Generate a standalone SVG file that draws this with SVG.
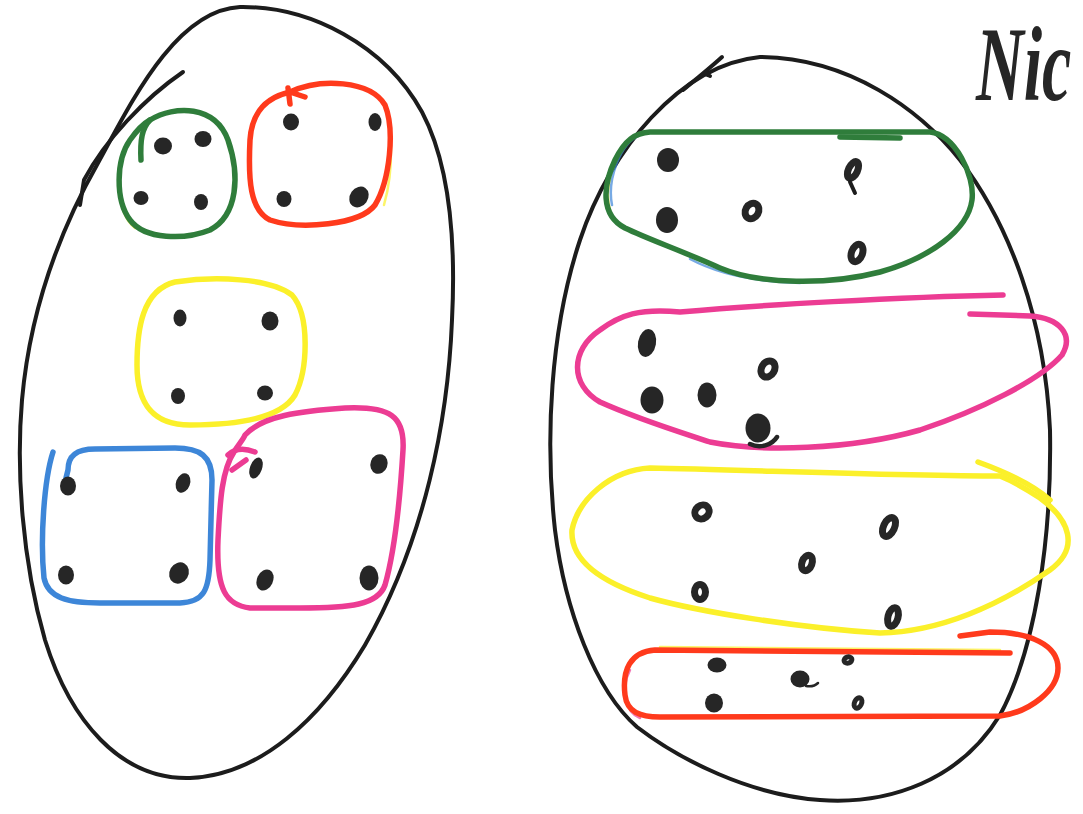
<svg xmlns="http://www.w3.org/2000/svg" width="1083" height="814" viewBox="0 0 1083 814">
<style>
.ink{fill:none;stroke:#1c1c1c;stroke-width:4;stroke-linecap:round;stroke-linejoin:round}
.mk{fill:none;stroke-width:5.5;stroke-linecap:round;stroke-linejoin:round}
.tint{fill:none;stroke-width:2.5;stroke-linecap:round;stroke-linejoin:round;opacity:0.7}
.green{stroke:#2f7d3b}
.red{stroke:#ff3a1c}
.yellow{stroke:#fbf02a}
.blue{stroke:#3d86d8}
.pink{stroke:#ec3c93}
.dot{fill:#262626}
.odot{fill:#fff;stroke:#262626;stroke-width:7}
.label{font-family:"Liberation Serif",serif;font-style:italic;font-weight:bold;fill:#262626}
</style>
<rect width="1083" height="814" fill="#fff"/>

<g id="left-set">
  <path class="ink" d="M 240 7 C 310 6, 385 45, 422 112 C 450 165, 456 240, 452 320 C 448 420, 425 540, 365 645 C 320 720, 260 775, 190 778 C 120 780, 70 720, 45 640 C 22 560, 16 470, 22 400 C 30 310, 60 230, 98 163 C 130 105, 175 10, 240 7 Z"/>
  <path class="ink" d="M 183 72 C 145 98, 105 140, 84 180 L 80 205"/>
</g>

<g id="left-green">
  <path class="tint yellow" d="M 123 152 C 116 180, 118 215, 135 228"/>
  <path class="mk green" d="M 150 120 C 175 105, 215 105, 228 140 C 240 175, 238 215, 210 230 C 185 240, 145 240, 130 220 C 115 200, 116 160, 130 140 C 137 130, 143 124, 150 120 Z"/>
  <path class="mk green" d="M 150 120 C 142 128, 140 140, 141 160"/>
  <ellipse class="dot" cx="163" cy="146" rx="9" ry="8.5"/>
  <ellipse class="dot" cx="203" cy="139" rx="8.5" ry="8"/>
  <ellipse class="dot" cx="141" cy="198" rx="7.5" ry="7"/>
  <ellipse class="dot" cx="201" cy="202" rx="7" ry="8"/>
</g>

<g id="left-red">
  <path class="tint yellow" d="M 383 100 C 393 125, 394 170, 384 205"/>
  <path class="mk red" d="M 290 92 C 320 78, 370 80, 385 105 C 395 130, 390 180, 375 205 C 360 225, 300 230, 270 220 C 250 210, 248 180, 250 140 C 252 110, 268 97, 290 92 Z"/>
  <path class="mk red" d="M 288 88 L 290 104 M 290 92 L 305 97"/>
  <ellipse class="dot" cx="291" cy="122" rx="8" ry="8.5"/>
  <ellipse class="dot" cx="375" cy="122" rx="6.5" ry="9"/>
  <ellipse class="dot" cx="284" cy="199" rx="7.5" ry="8"/>
  <ellipse class="dot" cx="359" cy="197" rx="9" ry="11" transform="rotate(35 359 197)"/>
</g>

<g id="left-yellow">
  <path class="mk yellow" d="M 175 282 C 215 276, 270 278, 292 295 C 310 315, 308 370, 295 395 C 280 420, 230 425, 190 425 C 150 425, 137 400, 137 365 C 137 330, 142 290, 175 282 Z"/>
  <ellipse class="dot" cx="180" cy="318" rx="6.5" ry="8.5"/>
  <ellipse class="dot" cx="270" cy="321" rx="8.5" ry="9.5"/>
  <ellipse class="dot" cx="178" cy="396" rx="7" ry="8"/>
  <ellipse class="dot" cx="265" cy="393" rx="8" ry="7.5"/>
</g>

<g id="left-blue">
  <path class="mk blue" d="M 53 452 C 44 480, 40 540, 44 578 C 48 598, 68 603, 100 603 L 180 603 C 204 602, 209 590, 210 560 L 212 480 C 212 456, 200 448, 175 448 L 95 449 C 76 449, 68 456, 68 470 L 66 478"/>
  <ellipse class="dot" cx="68" cy="486" rx="8" ry="9.5"/>
  <ellipse class="dot" cx="183" cy="483" rx="7" ry="10" transform="rotate(20 183 483)"/>
  <ellipse class="dot" cx="66" cy="575" rx="8" ry="9.5"/>
  <ellipse class="dot" cx="179" cy="573" rx="9.5" ry="11" transform="rotate(30 179 573)"/>
</g>

<g id="left-pink">
  <path class="mk pink" d="M 245 435 C 262 416, 300 411, 345 408 C 390 406, 405 416, 403 450 C 400 500, 395 550, 385 585 C 378 605, 350 608, 300 608 L 250 608 C 226 605, 216 590, 218 540 C 220 500, 222 470, 234 452 C 238 445, 243 440, 245 435 Z"/>
  <path class="mk pink" d="M 228 455 C 235 448, 245 448, 255 452 M 232 470 L 246 460"/>
  <ellipse class="dot" cx="256" cy="468" rx="6" ry="11" transform="rotate(20 256 468)"/>
  <ellipse class="dot" cx="379" cy="464" rx="8.5" ry="10" transform="rotate(20 379 464)"/>
  <ellipse class="dot" cx="265" cy="580" rx="8" ry="11" transform="rotate(25 265 580)"/>
  <ellipse class="dot" cx="369" cy="578" rx="9.5" ry="12.5"/>
</g>

<g id="right-set">
  <path class="ink" d="M 760 57 C 850 58, 920 110, 960 160 C 1010 225, 1045 320, 1050 430 C 1052 540, 1035 650, 1000 715 C 960 780, 890 805, 820 800 C 750 795, 680 760, 637 727 C 595 690, 565 610, 555 530 C 545 440, 550 330, 580 240 C 610 150, 680 65, 760 57 Z"/>
  <path class="ink" d="M 683 90 C 695 80, 710 68, 722 57 M 705 74 L 710 76"/>
</g>

<g id="right-green">
  <path class="tint yellow" d="M 630 140 C 612 160, 604 190, 610 210"/>
  <path class="tint blue" d="M 640 135 C 620 143, 607 180, 612 205 M 690 259 C 720 275, 760 282, 800 283"/>
  <path class="mk green" d="M 650 132 L 930 132 C 955 135, 975 175, 972 200 C 968 230, 930 258, 880 272 C 830 285, 760 285, 720 268 C 680 250, 650 240, 625 228 C 600 215, 603 185, 615 160 C 625 140, 635 133, 650 132 Z"/>
  <path class="mk green" d="M 840 137 L 900 138"/>
  <ellipse class="dot" cx="668" cy="160" rx="11" ry="12"/>
  <ellipse class="odot" cx="853" cy="170" rx="4.5" ry="9" transform="rotate(25 853 170)"/>
  <path class="ink" d="M 850 182 L 855 193" style="stroke-width:4"/>
  <ellipse class="dot" cx="667" cy="220" rx="11" ry="13"/>
  <ellipse class="odot" cx="752" cy="211" rx="6.5" ry="8" transform="rotate(30 752 211)"/>
  <ellipse class="odot" cx="857" cy="253" rx="5.5" ry="9" transform="rotate(20 857 253)"/>
</g>

<g id="right-pink">
  <path class="mk pink" d="M 1003 295 C 900 297, 760 305, 680 312 C 640 308, 620 315, 600 330 C 570 350, 570 385, 600 402 C 640 420, 680 432, 710 442 C 760 452, 850 450, 920 430 C 980 410, 1040 380, 1062 355 C 1074 335, 1060 318, 1030 316 L 970 314"/>
  <ellipse class="dot" cx="647" cy="343" rx="9" ry="14" transform="rotate(10 647 343)"/>
  <ellipse class="odot" cx="768" cy="369" rx="6.5" ry="8.5" transform="rotate(30 768 369)"/>
  <ellipse class="dot" cx="707" cy="395" rx="9.5" ry="12.5"/>
  <ellipse class="dot" cx="652" cy="400" rx="11.5" ry="13.5"/>
  <ellipse class="dot" cx="758" cy="428" rx="12.5" ry="14.5"/>
  <path d="M 750 444 C 760 449, 772 445, 777 437" fill="none" stroke="#262626" stroke-width="4.5" stroke-linecap="round"/>
</g>

<g id="right-yellow">
  <path class="mk yellow" d="M 1000 476 C 900 476, 750 470, 650 468 C 610 470, 578 500, 572 530 C 570 560, 600 582, 650 598 C 700 612, 800 628, 880 633 C 940 632, 1000 605, 1050 570 C 1080 548, 1070 520, 1040 498 C 1025 488, 1010 480, 1000 476 Z"/>
  <path class="mk yellow" d="M 978 462 C 1000 470, 1030 482, 1050 500"/>
  <ellipse class="odot" cx="702" cy="512" rx="6.5" ry="7.5" transform="rotate(50 702 512)"/>
  <ellipse class="odot" cx="889" cy="527" rx="5.5" ry="10" transform="rotate(25 889 527)"/>
  <ellipse class="odot" cx="807" cy="563" rx="5" ry="8" transform="rotate(20 807 563)"/>
  <ellipse class="odot" cx="700" cy="592" rx="5.5" ry="7.5"/>
  <ellipse class="odot" cx="893" cy="617" rx="5" ry="9.5" transform="rotate(15 893 617)"/>
</g>

<g id="right-red">
  <path class="tint yellow" d="M 660 647 L 1000 650"/>
  <path class="tint pink" d="M 630 670 C 620 690, 625 712, 640 718"/>
  <path class="mk red" d="M 1010 653 L 655 650 C 630 652, 622 670, 625 695 C 627 712, 640 717, 660 717 L 1000 716 C 1030 712, 1058 690, 1058 668 C 1058 645, 1030 632, 990 632 L 960 636"/>
  <ellipse class="dot" cx="717" cy="665" rx="9.5" ry="7.5"/>
  <ellipse class="odot" cx="848" cy="660" rx="4" ry="3" transform="rotate(-20 848 660)" style="stroke-width:5"/>
  <ellipse class="dot" cx="800" cy="679" rx="9.5" ry="8.5"/>
  <path d="M 806 686 C 812 687, 816 685, 818 683" fill="none" stroke="#262626" stroke-width="2.5" stroke-linecap="round"/>
  <ellipse class="dot" cx="714" cy="703" rx="9" ry="9.5"/>
  <ellipse class="odot" cx="858" cy="703" rx="3.5" ry="5.5" transform="rotate(25 858 703)" style="stroke-width:5"/>
</g>

<g id="signature">
  <text class="label" transform="translate(976 100) scale(1 1.6)" x="0" y="0" font-size="66">Nic</text>
</g>
</svg>
